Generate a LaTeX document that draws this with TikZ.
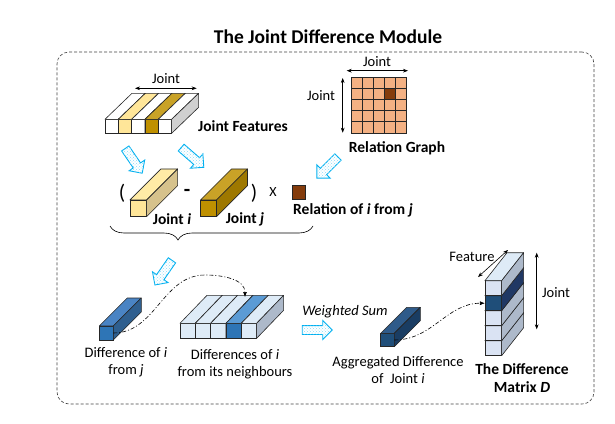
\documentclass[tikz,border=0pt]{standalone}
\usepackage{fontspec}
\setmainfont{Carlito}
\usetikzlibrary{positioning}
\usetikzlibrary{arrows.meta}
\usetikzlibrary{calc}
\usetikzlibrary{shapes.arrows}
\usetikzlibrary{patterns}
\usetikzlibrary{decorations.pathreplacing}
\definecolor{featLight}{HTML}{FFE699}
\definecolor{featGold}{HTML}{BF9000}
\definecolor{featGoldTop}{HTML}{C9A227}
\definecolor{sideGray}{HTML}{D0D0D0}
\definecolor{jiTop}{HTML}{FFEBA6}
\definecolor{jiSide}{HTML}{D6C28C}
\definecolor{jjSide}{HTML}{9E7800}
\definecolor{relCell}{HTML}{F4B183}
\definecolor{relDark}{HTML}{843C0C}
\definecolor{arrowBlue}{HTML}{00B0F0}
\definecolor{difFront}{HTML}{2E75B6}
\definecolor{difTop}{HTML}{4A84C4}
\definecolor{difSide}{HTML}{2F5F8F}
\definecolor{nbLight}{HTML}{DEEBF7}
\definecolor{nbBlueTop}{HTML}{5B9BD5}
\definecolor{nbSide}{HTML}{ADB9CA}
\definecolor{aggFront}{HTML}{1F4E79}
\definecolor{aggTop}{HTML}{2F5B8A}
\definecolor{aggSide}{HTML}{1A3D63}
\definecolor{matLight}{HTML}{DAE3F3}
\definecolor{matTop}{HTML}{DEEBF7}
\definecolor{matSide}{HTML}{ADB9CA}
\definecolor{matDarkSide}{HTML}{203864}
\tikzset{
  % one visible face of a bar
  face/.style={draw=black!85, line width=0.6pt, inner sep=0pt, outer sep=0pt, rectangle},
  edge/.style={draw=black!85, line width=0.6pt, line join=round},
  % the hollow blue arrows between stages
  hollow/.style={single arrow, draw=arrowBlue, line width=0.9pt, fill=white,
    postaction={pattern=crosshatch dots, pattern color=arrowBlue!45},
    minimum height=30pt, inner sep=4pt, single arrow head extend=5pt},
  % links
  flow/.style={-{Latex[length=5pt,width=4pt]}, dash pattern=on 4pt off 2pt on 1pt off 2pt, line width=0.6pt},
  dim/.style={{Stealth[length=5pt]}-{Stealth[length=5pt]}, line width=0.6pt},
  lbl/.style={font=\fontsize{14.5}{17}\selectfont, align=center, inner sep=1pt},
  bold/.style={font=\bfseries\fontsize{15.5}{18}\selectfont, align=center, inner sep=1pt},
  frame/.style={draw=black!75, dash pattern=on 3pt off 2pt, rounded corners=12pt, line width=0.6pt},
}
% a bar: name, centre of front, width, height, depth offset, front, top, side
\newcommand{\cubebar}[8]{%
  \node[face, fill=#6, minimum width=#3, minimum height=#4] (#1) at #2 {};
  \draw[edge, fill=#7] (#1.north west) -- ++(#5) -- ($(#1.north east)+(#5)$) -- (#1.north east) -- cycle;
  \draw[edge, fill=#8] (#1.north east) -- ++(#5) -- ($(#1.south east)+(#5)$) -- (#1.south east) -- cycle;}

\begin{document}
\begin{tikzpicture}[x=1pt, y=-1pt]
  \useasboundingbox (0,0) rectangle (615,423);

  \node[font=\bfseries\fontsize{19.5}{23}\selectfont] (title) at (328,37) {The Joint Difference Module};
  \node[frame, minimum width=537pt, minimum height=352pt] (frame) at (325.5,228) {};

  % joint features
  \foreach \f/\t [count=\k from 0] in {white/white, featLight/featLight, white/white, featGold/featGoldTop, white/white}
    \cubebar{jf\k}{({111.67+13.33*\k},126.3)}{13.33}{14}{27,-26}{\f}{\t}{sideGray};
  \coordinate (jfDimL) at ($(jf0.north west)+(30,-31)$);
  \coordinate (jfDimR) at ($(jf4.north east)+(25,-31)$);
  \draw[dim] (jfDimL) -- (jfDimR);
  \node[lbl] (jfJoint) at (166,79) {Joint};
  \node[bold] (jfName) at (243,126) {Joint Features};

  % relation graph
  \node[face, fill=relCell, minimum size=55.7pt] (graph) at (378.9,105) {};
  \foreach \k in {1,...,4} {
    \draw[edge] ($(graph.north west)!\k/5!(graph.north east)$) -- ($(graph.south west)!\k/5!(graph.south east)$);
    \draw[edge] ($(graph.north west)!\k/5!(graph.south west)$) -- ($(graph.north east)!\k/5!(graph.south east)$);
  }
  \node[face, fill=relDark, minimum size=11.14pt] (rel) at ($(graph.north west)+(38.99,16.71)$) {};
  \coordinate (gTopL) at (346.7,70.7);
  \coordinate (gTopR) at (408,70.7);
  \coordinate (gSideT) at (342.7,78);
  \coordinate (gSideB) at (342.7,132.7);
  \draw[dim] (gTopL) -- (gTopR);
  \draw[dim] (gSideT) -- (gSideB);
  \node[lbl] (graphTop) at (377,62) {Joint};
  \node[lbl] (graphSide) at (321,96) {Joint};
  \node[bold] (graphName) at (397,148) {Relation Graph};

  % difference of two joints
  \node[font=\fontsize{21}{24}\selectfont] (lpar) at (122,193) {(};
  \cubebar{ji}{(138.3,208.3)}{16.7}{16.7}{31,-31}{featLight}{jiTop}{jiSide};
  \node[font=\bfseries\fontsize{21}{24}\selectfont] (minus) at (187,192.5) {-};
  \cubebar{jj}{(208.5,208.3)}{16}{16.7}{31,-31}{featGold}{featGoldTop}{jjSide};
  \node[font=\fontsize{21}{24}\selectfont] (rpar) at (254,193) {)};
  \node[font=\fontsize{14}{16}\selectfont] (times) at (273,192) {X};
  \node[face, fill=relDark, minimum size=13.5pt] (relij) at (299,192.3) {};
  \node[bold] (jiName) at (172,219) {Joint \textit{i}};
  \node[bold] (jjName) at (245,219) {Joint \textit{j}};
  \node[bold, anchor=west] (relName) at (292,210) {Relation of \textit{i} from \textit{j}};

  \coordinate (braceR) at (313,226);
  \coordinate (braceL) at (110,226);
  \draw[decorate, decoration={brace, amplitude=14pt, aspect=0.665}, line width=0.6pt] (braceR) -- (braceL);

  % hollow arrows
  \node[hollow, rotate=-55.6] (arA) at (132.5,159) {};
  \node[hollow, rotate=-41] (arB) at (190.8,156) {};
  \node[hollow, rotate=-135] (arC) at (329,166) {};
  \node[hollow, rotate=-124.7] (arD) at (164.7,270.8) {};
  \node[hollow] (arE) at (315,330) {};

  % differences
  \cubebar{dif}{(106.3,333)}{14}{14}{28,-28}{difFront}{difTop}{difSide};
  \node[lbl] (difLbl) at (126,362) {Difference of \textit{i}\\from \textit{j}};
  \foreach \f/\t [count=\k from 0] in {nbLight/nbLight, nbLight/nbLight, nbLight/nbLight, difFront/nbBlueTop, nbLight/nbLight}
    \cubebar{nb\k}{({187.67+15.33*\k},330.8)}{15.33}{15}{27,-28}{\f}{\t}{nbSide};
  \node[lbl] (nbLbl) at (235,364) {Differences of \textit{i}\\from its neighbours};
  \coordinate (arcTop) at (205,275);
  \coordinate (nbHit) at (245,297);
  \draw[flow] (dif.east) to[out=0,in=180] (arcTop) to[out=0,in=90] (nbHit);

  \node[font=\itshape\fontsize{14.5}{17}\selectfont] (wsum) at (345,312) {Weighted Sum};
  \cubebar{agg}{(387.5,340)}{13.6}{13.4}{26,-26}{aggFront}{aggTop}{aggSide};
  \node[lbl] (aggLbl) at (398,370) {Aggregated Difference\\of\ \ Joint \textit{i}};

  % difference matrix
  \foreach \r/\f/\s in {4/matLight/matSide, 3/matLight/matSide, 2/matLight/matSide, 1/aggFront/matDarkSide, 0/matLight/matSide}
    \cubebar{mat\r}{(493.3,{288.2+15*\r})}{16.7}{15}{22,-28}{\f}{matTop}{\s};
  \draw[flow] (agg.east) to[out=0,in=180] (mat1.west);
  \coordinate (featA) at (478,277);
  \coordinate (featB) at (508,250);
  \coordinate (mJointT) at (536.7,252.7);
  \coordinate (mJointB) at (536.7,329.3);
  \draw[dim] (featA) -- (featB);
  \draw[dim] (mJointT) -- (mJointB);
  \node[lbl] (featLbl) at (472,257) {Feature};
  \node[lbl] (matJoint) at (556,293) {Joint};
  \node[bold] (matName) at (522,378) {The Difference\\Matrix \textit{D}};

\end{tikzpicture}
\end{document}
